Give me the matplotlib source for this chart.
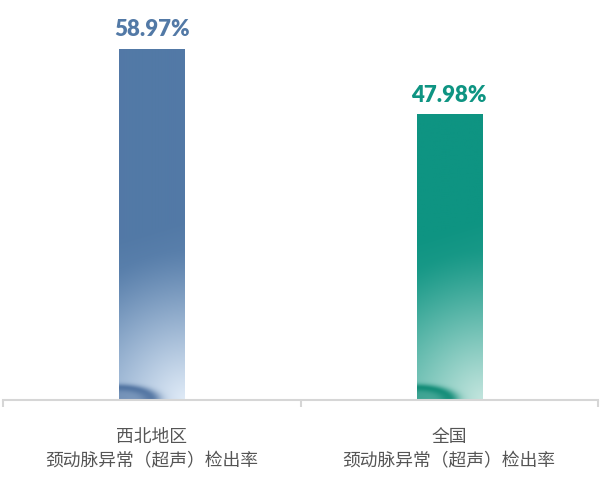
import numpy as np
import matplotlib.pyplot as plt
from matplotlib.colors import to_rgb

categories = ['西北地区\n颈动脉异常（超声）检出率', '全国\n颈动脉异常（超声）检出率']
values = [58.97, 47.98]
labels = ['58.97%', '47.98%']
top_colors = ['#5279a6', '#0e9482']
mid_colors = ['#7a9cc3', '#46ae9f']
light_colors = ['#e0ebf7', '#c3e5de']
dark_colors = ['#466a9a', '#03846e']

bar_w = 0.22
px_per_unit_y = 351 / 58.97


def BarImage(top, mid, light, dark, height_px, width_px):
    # gradient image for one bar, rows go from bottom (0) to top
    ny, nx = int(height_px), int(width_px)
    X, Y = np.meshgrid(np.linspace(0, 1, nx), np.linspace(0, height_px, ny))
    top, mid, light, dark = [np.array(to_rgb(c)) for c in (top, mid, light, dark)]

    # solid on top, lighter toward the bottom (diagonal)
    v = np.clip((Y - 20 * X) / 160.0, 0, 1)[..., None] ** 0.9
    base = mid + (top - mid) * v

    # radial highlight from the bottom-right corner
    d = np.sqrt(((1 - X) * width_px) ** 2 + (Y * 0.9) ** 2)
    w = np.clip(1 - d / 135.0, 0, 1)[..., None] ** 1.3
    img = base + (light - base) * w

    # thin dark streak in the bottom-left corner
    e = np.sqrt((X * width_px / 40.0) ** 2 + (Y / 15.0) ** 2)
    dk = np.exp(-((e - 0.8) / 0.25) ** 2)
    dk = np.where(e < 0.8, 0.6 + 0.4 * dk, dk)[..., None] * 0.85
    img = img + (dark - img) * dk
    return np.clip(img, 0, 1)


fig = plt.figure(figsize=(6, 4.85), dpi=100)
ax = fig.add_axes([3 / 600, 84 / 485, 595 / 600, 401 / 485])
ymax = 401 / px_per_unit_y

for i, (val, lab) in enumerate(zip(values, labels)):
    x0, x1 = i - bar_w / 2, i + bar_w / 2
    img = BarImage(top_colors[i], mid_colors[i], light_colors[i], dark_colors[i],
                   val * px_per_unit_y, bar_w / 2 * 595)
    ax.imshow(img, extent=[x0, x1, 0, val], origin='lower', aspect='auto',
              interpolation='bilinear', zorder=2)
    ax.annotate(lab, (i, val), xytext=(0, 7), textcoords='offset points',
                ha='center', va='bottom', fontsize=16, fontweight='heavy',
                family='Lato', color=top_colors[i])
    ax.text(i, -0.068 * ymax, categories[i], ha='center', va='top',
            fontsize=12.8, color='#555555', linespacing=1.4,
            family=['Noto Sans CJK SC', 'DejaVu Sans'])

ax.set_xlim(-0.5, 1.5)
ax.set_ylim(0, ymax)

for s in ['top', 'right', 'left']:
    ax.spines[s].set_visible(False)
ax.spines['bottom'].set_color('#d6d6d6')
ax.spines['bottom'].set_linewidth(1.5)
ax.set_yticks([])
ax.set_xticks([-0.5, 0.5, 1.5])
ax.set_xticklabels([])
ax.tick_params(axis='x', length=5, width=1.5, color='#d6d6d6')

fig.savefig('out.png', dpi=100)
